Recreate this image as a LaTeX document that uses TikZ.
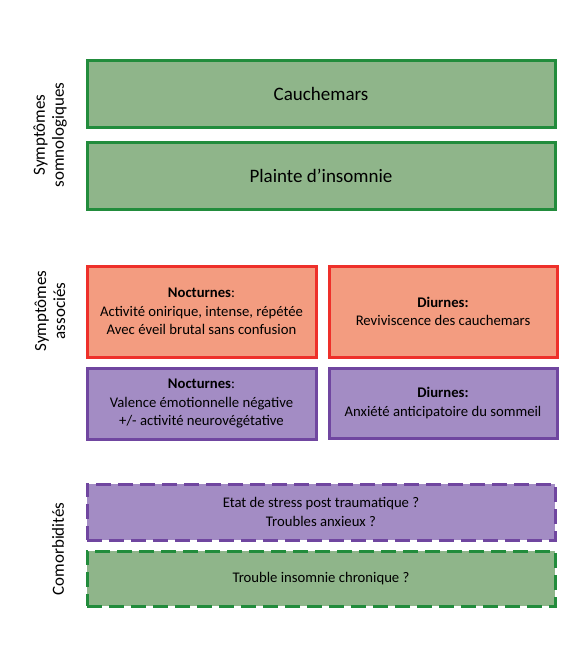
\documentclass[tikz,border=0pt]{standalone}
\usepackage{fontspec}
\setmainfont{Carlito}
\definecolor{gfill}{RGB}{143,181,138}
\definecolor{gdraw}{RGB}{34,140,60}
\definecolor{rfill}{RGB}{243,156,128}
\definecolor{rdraw}{RGB}{238,48,42}
\definecolor{pfill}{RGB}{163,140,196}
\definecolor{pdraw}{RGB}{112,70,160}
\begin{document}
\begin{tikzpicture}[x=1pt,y=-1pt,
  box/.style={line width=3pt, inner sep=0pt, align=center, font=\fontsize{14.7}{18.5}\selectfont},
  gbox/.style={box, fill=gfill, draw=gdraw},
  rbox/.style={box, fill=rfill, draw=rdraw},
  pbox/.style={box, fill=pfill, draw=pdraw},
  dsh/.style={dash pattern=on 15pt off 7pt},
  side/.style={rotate=90, align=center, font=\fontsize{17}{19}\selectfont}]
\useasboundingbox (0,0) rectangle (584,657);
\node[gbox, minimum width=468pt, minimum height=67pt, font=\fontsize{19}{22}\selectfont] (cau) at (321,93.5) {Cauchemars};
\node[gbox, minimum width=468pt, minimum height=67pt, font=\fontsize{19}{22}\selectfont] (pla) at (321,175.5) {Plainte d’insomnie};
\node[rbox, minimum width=229pt, minimum height=91pt] (rn) at (201.5,311.5) {\textbf{Nocturnes}:\\Activité onirique, intense, répétée\\Avec éveil brutal sans confusion};
\node[rbox, minimum width=228pt, minimum height=91pt] (rd) at (443,311.5) {\textbf{Diurnes:}\\Reviviscence des cauchemars};
\node[pbox, minimum width=229pt, minimum height=71pt] (pn) at (201.5,403.5) {\textbf{Nocturnes}:\\Valence émotionnelle négative\\+/- activité neurovégétative};
\node[pbox, minimum width=228pt, minimum height=70pt] (pd) at (443,403) {\textbf{Diurnes:}\\Anxiété anticipatoire du sommeil};
\node[pbox, dsh, minimum width=468pt, minimum height=56pt] (ptsd) at (321,512) {Etat de stress post traumatique ?\\Troubles anxieux ?};
\node[gbox, dsh, minimum width=468pt, minimum height=55pt] (tic) at (321,578.5) {Trouble insomnie chronique ?};
\node[side] (l1) at (50,135) {Symptômes\\somnologiques};
\node[side] (l2) at (50,311) {Symptômes\\associés};
\node[side] (l3) at (58,549) {Comorbidités};
\end{tikzpicture}
\end{document}
